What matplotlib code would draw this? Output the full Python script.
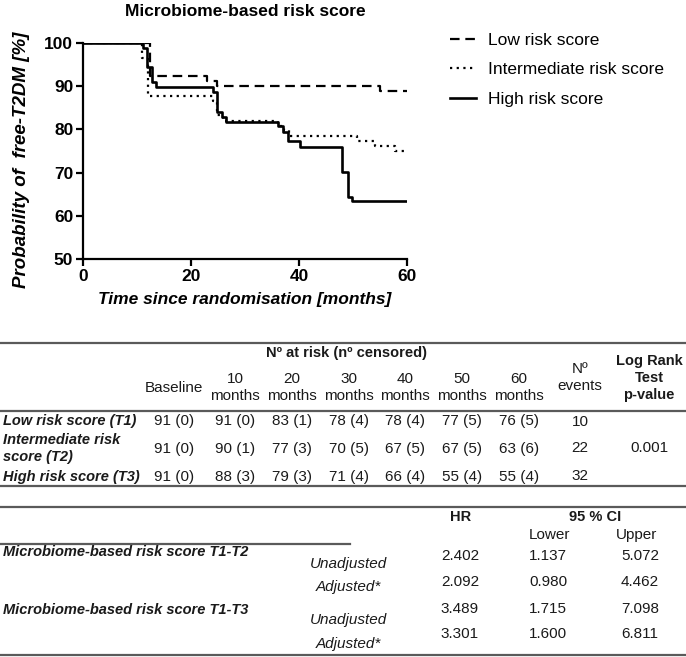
import matplotlib
matplotlib.use("Agg")
import matplotlib.pyplot as plt
from matplotlib.lines import Line2D

# ---------------- data ----------------
times_low = [0, 12.4, 22.9, 24.9, 55.0, 60]
surv_low = [100, 92.3, 91.2, 90.0, 88.8, 88.8]

times_int = [0, 10.9, 12.0, 24.0, 24.9, 25.9, 36.2, 37.2, 38.2, 50.8, 54.0, 57.7, 60]
surv_int = [100, 96.5, 87.7, 86.5, 83.3, 81.9, 80.9, 79.9, 78.5, 77.4, 76.2, 75.0, 75.0]

times_high = [0, 11.2, 11.8, 12.8, 13.5, 24.1, 24.9, 25.7, 26.5, 36.2, 37.1, 38.0, 40.2,
              48.0, 49.0, 49.9, 60]
surv_high = [100, 98.9, 94.5, 91.0, 89.8, 88.7, 84.0, 82.9, 81.8, 80.9, 79.5, 77.2, 76.0,
             70.1, 64.4, 63.4, 63.4]

series_labels = ["Low risk score", "Intermediate risk score", "High risk score"]
x_ticks = [0, 20, 40, 60]
y_ticks = [50, 60, 70, 80, 90, 100]

group_labels = ["Low risk score (T1)", "Intermediate risk\nscore (T2)", "High risk score (T3)"]
time_headers = ["Baseline", "10\nmonths", "20\nmonths", "30\nmonths", "40\nmonths",
                "50\nmonths", "60\nmonths"]
at_risk_low = [91, 91, 83, 78, 78, 77, 76]
cens_low = [0, 0, 1, 4, 4, 5, 5]
at_risk_int = [91, 90, 77, 70, 67, 67, 63]
cens_int = [0, 1, 3, 5, 5, 5, 6]
at_risk_high = [91, 88, 79, 71, 66, 55, 55]
cens_high = [0, 3, 3, 4, 4, 4, 4]
n_events = [10, 22, 32]
logrank_p = "0.001"

comparisons = ["Microbiome-based risk score T1-T2", "Microbiome-based risk score T1-T3"]
models = ["Unadjusted", "Adjusted*", "Unadjusted", "Adjusted*"]
hr_vals = [2.402, 2.092, 3.489, 3.301]
ci_lower = [1.137, 0.980, 1.715, 1.600]
ci_upper = [5.072, 4.462, 7.098, 6.811]

# ---------------- figure ----------------
W, H = 686, 657
fig = plt.figure(figsize=(W / 100, H / 100), dpi=100)
plt.rcParams['font.family'] = ['Liberation Sans', 'DejaVu Sans']
REG = ['Liberation Sans', 'DejaVu Sans']
TXT = '#1a1a1a'
LINEC = '#5a5a5a'
FS_T = 11


def fx(x):
    return x / W


def fy(y):
    return 1 - y / H


def T(x, y, s, **kw):
    kw.setdefault('va', 'center')
    kw.setdefault('color', TXT)
    kw.setdefault('family', REG)
    fig.text(fx(x), fy(y), s, **kw)


def HL(y, x0=0, x1=W, lw=1.6):
    fig.add_artist(Line2D([fx(x0), fx(x1)], [fy(y), fy(y)], color=LINEC, lw=lw,
                          transform=fig.transFigure))


# ---------------- KM plot ----------------
ax = fig.add_axes([fx(83), fy(259), (407 - 83) / W, (259 - 43) / H])
lw = 1.6
l1, = ax.step(times_low, surv_low, where='post', color='black', lw=lw,
              linestyle=(0, (4.3, 2.6)), label=series_labels[0])
l2, = ax.step(times_int, surv_int, where='post', color='black', lw=lw,
              linestyle=(0, (1, 2.0)), label=series_labels[1])
l3, = ax.step(times_high, surv_high, where='post', color='black', lw=lw + 0.3,
              linestyle='-', label=series_labels[2])
ax.set_xlim(0, 60)
ax.set_ylim(50, 100)
ax.set_xticks(x_ticks)
ax.set_yticks(y_ticks)
for s in ['top', 'right']:
    ax.spines[s].set_visible(False)
for s in ['left', 'bottom']:
    ax.spines[s].set_linewidth(1.6)
ax.tick_params(width=1.6, length=5, labelsize=12.5, pad=2)
for lab in ax.get_xticklabels() + ax.get_yticklabels():
    lab.set_fontweight('bold')
ax.set_xlabel("Time since randomisation [months]", fontsize=12.5, fontweight='bold',
              fontstyle='italic', labelpad=6)
ax.set_ylabel("Probability of  free-T2DM [%]", fontsize=13.5, fontweight='bold',
              fontstyle='italic')
ax.yaxis.set_label_coords((30 - 83) / 324, (259 - 160) / 216)
T(245, 11, "Microbiome-based risk score", ha='center', fontsize=12.5, fontweight='bold',
  color='black')

fig.legend(handles=[l1, l2, l3], loc='upper left',
           bbox_to_anchor=(fx(434), fy(17)), frameon=False, fontsize=12.5,
           handlelength=1.5, handletextpad=0.7, labelspacing=0.83)

# ---------------- table 1 ----------------
HL(343)
HL(411)
HL(486)
T(346, 353, "N\u00ba at risk (n\u00ba censored)", ha='center', fontsize=10.5,
  fontweight='bold')
col_x = [174, 235, 292, 349, 405, 462, 519]
for x, h in zip(col_x, time_headers):
    T(x, 387.5, h, ha='center', fontsize=FS_T, linespacing=1.24)
T(580, 377.5, "N\u00ba\nevents", ha='center', fontsize=FS_T, linespacing=1.24)
T(649, 378, "Log Rank\nTest\np-value", ha='center', fontsize=10.5, fontweight='bold',
  linespacing=1.28)

row_y = [421.5, 448.5, 476.5]
risk_rows = [at_risk_low, at_risk_int, at_risk_high]
cens_rows = [cens_low, cens_int, cens_high]
for y, g, ar, cn, ev in zip(row_y, group_labels, risk_rows, cens_rows, n_events):
    T(3, y, g, ha='left', fontsize=10.5, fontweight='bold', fontstyle='italic',
      linespacing=1.36)
    for x, a, c in zip(col_x, ar, cn):
        T(x, y, f"{a} ({c})", ha='center', fontsize=FS_T)
    T(580, y, str(ev), ha='center', fontsize=FS_T)
T(649, row_y[1], logrank_p, ha='center', fontsize=FS_T)

# ---------------- table 2 ----------------
HL(507)
HL(544, 0, 350)
HL(655)
T(461, 517, "HR", ha='center', fontsize=10.5, fontweight='bold')
T(595, 517, "95 % CI", ha='center', fontsize=10.5, fontweight='bold')
T(549, 535, "Lower", ha='center', fontsize=FS_T)
T(637, 535, "Upper", ha='center', fontsize=FS_T)

comp_y = [552.5, 609.5]
for y, c in zip(comp_y, comparisons):
    T(3, y, c, ha='left', fontsize=10.5, fontweight='bold', fontstyle='italic')
model_y = [564, 587, 620, 644]
for y, m in zip(model_y, models):
    T(348, y, m, ha='center', fontsize=FS_T, fontstyle='italic')
val_y = [556.5, 582, 609, 634]
for y, h, lo, up in zip(val_y, hr_vals, ci_lower, ci_upper):
    T(460, y, f"{h:.3f}", ha='center', fontsize=FS_T)
    T(548, y, f"{lo:.3f}", ha='center', fontsize=FS_T)
    T(640, y, f"{up:.3f}", ha='center', fontsize=FS_T)

fig.savefig("out.png", dpi=100)
